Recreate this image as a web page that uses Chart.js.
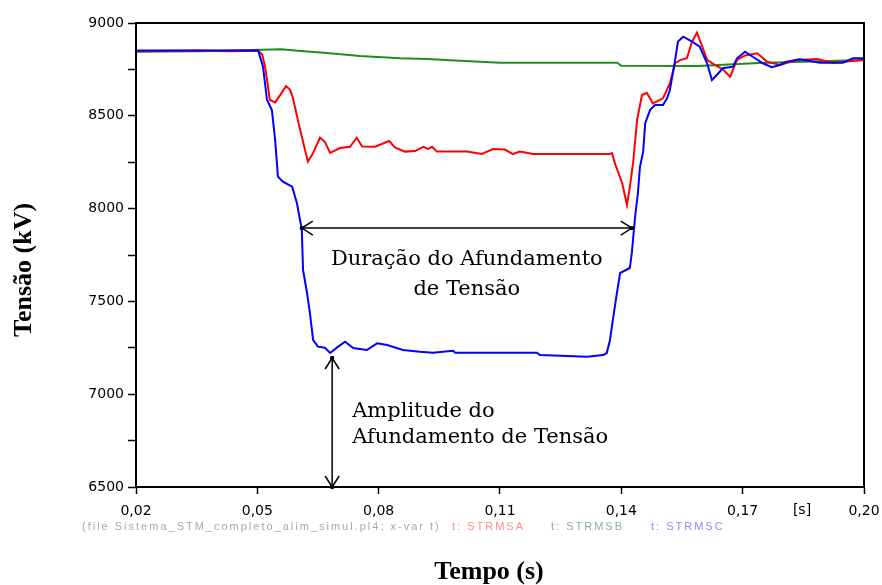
<!DOCTYPE html>
<html>
<head>
<meta charset="utf-8">
<script src="https://cdn.jsdelivr.net/npm/chart.js@4/dist/chart.umd.min.js"></script>
<style>
  html, body { margin: 0; padding: 0; background: #fff; }
  #wrap { width: 882px; height: 585px; position: relative; }
</style>
</head>
<body>
<div id="wrap"><canvas id="c" width="882" height="585"></canvas></div>
<script>
// ---- Data (time in s, voltage in kV) ----
const xTicks = [0.02, 0.05, 0.08, 0.11, 0.14, 0.17, 0.20];
const yTicks = [6500, 7000, 7500, 8000, 8500, 9000];

const tA = [0.0200,0.0358,0.0432,0.0502,0.0512,0.0519,0.0524,0.0531,0.0544,0.0556,0.0571,0.0581,0.0588,0.0601,0.0610,0.0625,0.0638,0.0655,0.0667,0.0680,0.0704,0.0729,0.0746,0.0759,0.0791,0.0826,0.0840,0.0865,0.0890,0.0910,0.0922,0.0932,0.0944,0.1018,0.1055,0.1083,0.1112,0.1132,0.1149,0.1182,0.1372,0.1377,0.1384,0.1402,0.1414,0.1421,0.1429,0.1439,0.1451,0.1463,0.1478,0.1503,0.1520,0.1533,0.1545,0.1562,0.1575,0.1587,0.1599,0.1612,0.1631,0.1651,0.1669,0.1686,0.1706,0.1736,0.1760,0.1792,0.1834,0.1884,0.1923,0.2000];
const vA = [8848,8852,8848,8850,8830,8765,8693,8585,8572,8610,8660,8640,8596,8470,8387,8253,8300,8382,8360,8300,8326,8333,8382,8335,8333,8364,8330,8307,8310,8333,8322,8333,8307,8307,8294,8321,8318,8294,8307,8294,8294,8299,8245,8138,8019,8116,8245,8477,8612,8624,8567,8594,8675,8783,8800,8810,8900,8948,8880,8801,8774,8750,8711,8801,8825,8837,8792,8774,8801,8806,8786,8801];

const tB = [0.0200,0.0358,0.0560,0.0600,0.0672,0.0754,0.0853,0.0920,0.1001,0.1100,0.1390,0.1400,0.1590,0.1740,0.2000];
const vB = [8845,8848,8858,8850,8838,8822,8810,8806,8797,8786,8786,8770,8768,8785,8800];

const tC = [0.0200,0.0502,0.0514,0.0524,0.0536,0.0544,0.0551,0.0563,0.0586,0.0598,0.0610,0.0613,0.0623,0.0630,0.0638,0.0650,0.0667,0.0680,0.0699,0.0717,0.0737,0.0771,0.0796,0.0821,0.0860,0.0902,0.0934,0.0984,0.0989,0.1191,0.1199,0.1315,0.1355,0.1364,0.1372,0.1379,0.1389,0.1397,0.1421,0.1426,0.1434,0.1441,0.1446,0.1454,0.1459,0.1471,0.1483,0.1503,0.1513,0.1520,0.1528,0.1533,0.1540,0.1553,0.1575,0.1594,0.1612,0.1624,0.1636,0.1651,0.1676,0.1686,0.1706,0.1725,0.1750,0.1772,0.1792,0.1809,0.1841,0.1891,0.1948,0.1973,0.2000];
const vC = [8852,8852,8765,8585,8531,8370,8172,8145,8118,8029,7885,7669,7545,7437,7292,7256,7250,7222,7255,7283,7249,7238,7274,7265,7238,7229,7224,7234,7224,7224,7211,7202,7211,7222,7292,7400,7545,7653,7680,7761,7956,8084,8224,8308,8460,8531,8558,8558,8594,8639,8738,8801,8900,8926,8900,8872,8783,8693,8720,8756,8765,8810,8845,8818,8783,8762,8774,8792,8804,8786,8786,8810,8810];

const seriesNames = ['t: STRMSA', 't: STRMSB', 't: STRMSC'];
const fileNote = '(file Sistema_STM_completo_alim_simul.pl4; x-var t)';

// Annotation anchors (data coords)
const durArrow = { y: 7895, x0: 0.0610, x1: 0.1426 };
const ampArrow = { x: 0.0685, y0: 7195, y1: 6500 };

const pts = (t, v) => t.map((x, i) => ({ x, y: v[i] }));

function arrowHead(ctx, tx, ty, dx, dy) {
  const L = 11, W = 7;
  const px = -dy, py = dx;
  ctx.beginPath();
  ctx.moveTo(tx - dx * L + px * W, ty - dy * L + py * W);
  ctx.lineTo(tx, ty);
  ctx.lineTo(tx - dx * L - px * W, ty - dy * L - py * W);
  ctx.stroke();
  ctx.beginPath();
  ctx.arc(tx, ty, 2.2, 0, Math.PI * 2);
  ctx.fill();
}

const decor = {
  id: 'decor',
  afterDatasetsDraw(chart) {
    const { ctx, chartArea: a, scales: { x, y } } = chart;
    ctx.save();
    ctx.strokeStyle = '#000';
    ctx.lineWidth = 2;
    ctx.strokeRect(a.left, a.top, a.right - a.left, a.bottom - a.top);

    ctx.lineWidth = 1.5;
    ctx.fillStyle = '#000';
    const hy = y.getPixelForValue(durArrow.y);
    const hx0 = x.getPixelForValue(durArrow.x0), hx1 = x.getPixelForValue(durArrow.x1);
    ctx.beginPath(); ctx.moveTo(hx0, hy); ctx.lineTo(hx1, hy); ctx.stroke();
    arrowHead(ctx, hx0, hy, -1, 0);
    arrowHead(ctx, hx1, hy, 1, 0);

    const vx = x.getPixelForValue(ampArrow.x);
    const vy0 = y.getPixelForValue(ampArrow.y0), vy1 = y.getPixelForValue(ampArrow.y1);
    ctx.beginPath(); ctx.moveTo(vx, vy0); ctx.lineTo(vx, vy1); ctx.stroke();
    arrowHead(ctx, vx, vy0, 0, -1);
    arrowHead(ctx, vx, vy1, 0, 1);

    ctx.fillStyle = '#000';
    ctx.font = '21px "DejaVu Serif"';
    ctx.textBaseline = 'alphabetic';
    ctx.textAlign = 'center';
    const cx = (hx0 + hx1) / 2;
    ctx.fillText('Duração do Afundamento', cx, hy + 37);
    ctx.fillText('de Tensão', cx, hy + 67);
    ctx.textAlign = 'left';
    ctx.fillText('Amplitude do', vx + 20, vy0 + 59);
    ctx.fillText('Afundamento de Tensão', vx + 20, vy0 + 85);

    ctx.font = '14px "DejaVu Sans"';
    ctx.textAlign = 'center';
    ctx.textBaseline = 'middle';
    ctx.fillText('[s]', 802, a.bottom + 23);

    ctx.font = '11px "Liberation Sans"';
    ctx.textAlign = 'left';
    ctx.textBaseline = 'middle';
    try { ctx.letterSpacing = '2px'; } catch (e) {}
    const ny = a.bottom + 40;
    ctx.fillStyle = '#a8a8a8';
    ctx.fillText(fileNote, 82, ny);
    ctx.fillStyle = '#ff8c8c';
    ctx.fillText(seriesNames[0], 452, ny);
    ctx.fillStyle = '#8fb08f';
    ctx.fillText(seriesNames[1], 551, ny);
    ctx.fillStyle = '#8c8cff';
    ctx.fillText(seriesNames[2], 651, ny);
    try { ctx.letterSpacing = '0px'; } catch (e) {}

    ctx.fillStyle = '#000';
    ctx.font = 'bold 26px "Liberation Serif"';
    ctx.textAlign = 'center';
    ctx.textBaseline = 'alphabetic';
    ctx.fillText('Tempo (s)', 489, 579);
    ctx.save();
    ctx.translate(31, 270);
    ctx.rotate(-Math.PI / 2);
    ctx.fillText('Tensão (kV)', 0, 0);
    ctx.restore();

    ctx.restore();
  }
};

new Chart(document.getElementById('c'), {
  type: 'line',
  data: {
    datasets: [
      { label: seriesNames[2], data: pts(tC, vC), borderColor: '#0000ff', order: 1 },
      { label: seriesNames[0], data: pts(tA, vA), borderColor: '#ff0000', order: 2 },
      { label: seriesNames[1], data: pts(tB, vB), borderColor: '#1e8c1e', order: 3 }
    ]
  },
  options: {
    responsive: false,
    animation: false,
    events: [],
    layout: { padding: { left: 0, top: 23, right: 18, bottom: 0 } },
    elements: {
      line: { borderWidth: 2, tension: 0, fill: false },
      point: { radius: 0 }
    },
    plugins: { legend: { display: false }, tooltip: { enabled: false } },
    scales: {
      x: {
        type: 'linear',
        min: 0.02, max: 0.20,
        afterFit(s) { s.height = 98; s.paddingLeft = 0; s.paddingRight = 0; },
        afterBuildTicks(s) { s.ticks = xTicks.map(v => ({ value: v })); },
        ticks: {
          autoSkip: false, maxRotation: 0, padding: 9,
          color: '#000', font: { family: 'DejaVu Sans', size: 14 },
          callback: v => v.toFixed(2).replace('.', ',')
        },
        grid: { drawOnChartArea: false, drawTicks: true, tickLength: 7, tickColor: '#000', tickWidth: 1.5 },
        border: { display: true, color: '#000', width: 2 }
      },
      y: {
        type: 'linear',
        min: 6500, max: 9000,
        afterFit(s) { s.width = 136; s.paddingTop = 0; s.paddingBottom = 0; },
        afterBuildTicks(s) {
          const t = [];
          for (let i = 0; i < yTicks.length; i++) {
            t.push({ value: yTicks[i] });
            if (i < yTicks.length - 1) t.push({ value: (yTicks[i] + yTicks[i + 1]) / 2 });
          }
          s.ticks = t;
        },
        ticks: {
          autoSkip: false, padding: 4,
          color: '#000', font: { family: 'DejaVu Sans', size: 14 },
          callback: v => (yTicks.includes(v) ? String(v) : '')
        },
        grid: { drawOnChartArea: false, drawTicks: true, tickLength: 8, tickColor: '#000', tickWidth: 1.5 },
        border: { display: true, color: '#000', width: 2 }
      }
    }
  },
  plugins: [decor]
});
</script>
</body>
</html>
